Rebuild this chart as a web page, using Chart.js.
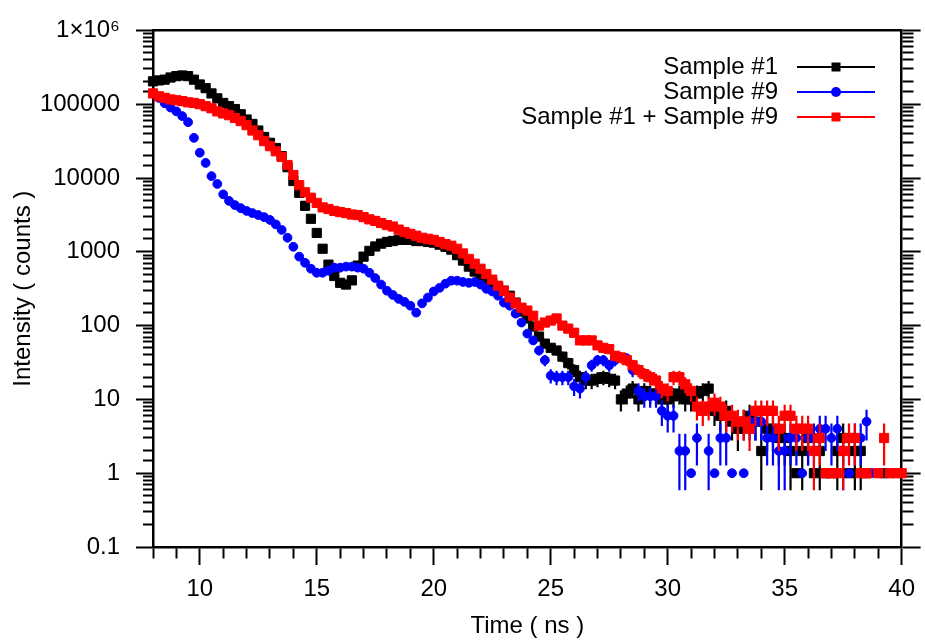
<!DOCTYPE html>
<html>
<head>
<meta charset="utf-8">
<script src="https://cdn.jsdelivr.net/npm/chart.js@4.4.1/dist/chart.umd.min.js"></script>
<style>
html,body{margin:0;padding:0;background:#ffffff;}
#wrap{width:925px;height:641px;position:relative;}
</style>
</head>
<body>
<div id="wrap"><canvas id="c"></canvas></div>
<script>
// ---- data ----
const timeNs = [8,8.25,8.5,8.75,9,9.25,9.5,9.75,10,10.25,10.5,10.75,11,11.25,11.5,11.75,
  12,12.25,12.5,12.75,13,13.25,13.5,13.75,14,14.25,14.5,14.75,15,15.25,15.5,15.75,
  16,16.25,16.5,16.75,17,17.25,17.5,17.75,18,18.25,18.5,18.75,19,19.25,19.5,19.75,
  20,20.25,20.5,20.75,21,21.25,21.5,21.75,22,22.25,22.5,22.75,23,23.25,23.5,23.75,
  24,24.25,24.5,24.75,25,25.25,25.5,25.75,26,26.25,26.5,26.75,27,27.25,27.5,27.75,
  28,28.25,28.5,28.75,29,29.25,29.5,29.75,30,30.25,30.5,30.75,31,31.25,31.5,31.75,
  32,32.25,32.5,32.75,33,33.25,33.5,33.75,34,34.25,34.5,34.75,35,35.25,35.5,35.75,
  36,36.25,36.5,36.75,37,37.25,37.5,37.75,38,38.25,38.5,38.75,39,39.25,39.5,39.75,40];

const sample1 = [204000,210000,215000,230000,240000,245000,240000,215000,
  185000,165000,140000,120000,104000,94000,86000,73000,
  62000,54000,44000,36000,30000,25500,19800,14000,
  9100,6300,4200,2800,1800,1100,670,470,
  380,360,410,650,860,1030,1180,1290,
  1360,1400,1450,1450,1450,1400,1400,1360,
  1330,1250,1170,1070,900,760,630,540,
  474,420,380,335,297,254,205,155,
  125,97,71,57,50,46,38,31,
  25,20,18,18,19,20,19,18,
  10,12,14,10,13,12,12,10,
  10,11,12,10,10,12,13,14,
  7,6,7,5,4,5,6,5,
  2,4,4,3,3,2,1,2,
  3,1,2,1,1,2,3,1,
  2,2,1,null,null,1,null,null,
  null];

const sample9 = [140000,122000,103000,90000,80000,69000,57000,35000,
  22000,16000,10600,8300,6000,4900,4300,3900,
  3580,3350,3150,2950,2700,2350,1980,1550,
  1170,860,710,590,520,520,554,610,
  610,630,630,610,590,520,440,360,
  297,260,230,210,186,150,200,240,
  290,325,370,406,406,390,380,390,
  360,315,290,254,205,186,145,110,
  78,63,46,34,21,20,20,20,
  15,14,20,29,34,34,29,34,
  37,36,25,13,11,11,11,7,
  6,6,2,2,1,3,null,2,
  1,3,3,1,null,1,5,5,
  5,3,3,2,2,3,3,1,
  3,3,4,4,3,4,2,1,
  3,3,5,1,null,null,null,null,
  null];

const sample1plus9 = [140000,128000,122000,116000,113000,110000,106000,104000,
  100000,94000,88000,80000,75000,71000,65000,59000,
  52000,44000,38000,31600,27000,23000,19300,15000,
  11000,8000,6400,5400,4600,4000,3800,3580,
  3450,3350,3200,3150,2950,2750,2620,2450,
  2300,2200,2000,1850,1750,1650,1550,1500,
  1450,1360,1270,1210,1100,950,800,690,
  590,500,420,347,297,240,200,175,
  160,136,100,110,117,125,100,91,
  80,63,63,63,54,50,48,39,
  37,34,29,25,22,20,18,14,
  13,20,20,16,13,8,7,8,
  9,8,6,6,5,5,4,7,
  7,7,7,4,6,6,4,4,
  4,2,3,1,1,1,2,3,
  3,1,1,null,1,3,1,1,
  1];

const seriesNames = ['Sample #1', 'Sample #9', 'Sample #1 + Sample #9'];
const seriesColors = ['#000000', '#0000ff', '#ff0000'];
const yTickValues = [0.1, 1, 10, 100, 1000, 10000, 100000, 1000000];
const yTickLabels = ['0.1', '1', '10', '100', '1000', '10000', '100000', '1\u00d710\u2076'];
const xTickLabels = [10, 15, 20, 25, 30, 35, 40];

// ---- helpers ----
const FONT_FAMILY = "'Liberation Sans', Arial, Helvetica, sans-serif";
const FONT = {family: FONT_FAMILY, size: 24};
Chart.defaults.font.family = FONT_FAMILY;
Chart.defaults.color = '#000000';

function isDecade(v) {
  const l = Math.log10(v);
  return Math.abs(l - Math.round(l)) < 1e-6;
}
function yLabel(v) {
  for (let i = 0; i < yTickValues.length; i++) {
    if (Math.abs(v - yTickValues[i]) / yTickValues[i] < 1e-6) return yTickLabels[i];
  }
  return '';
}
function isXMajor(v) {
  const r = Math.round(v);
  return Math.abs(v - r) < 1e-6 && xTickLabels.includes(r);
}
function points(arr) {
  const out = [];
  timeNs.forEach((t, i) => { if (arr[i] !== null) out.push({x: t, y: arr[i]}); });
  return out;
}

// Poisson error bars (sqrt of counts), drawn with the chart's own scales
const errorBarPlugin = {
  id: 'errorBars',
  afterDatasetDraw(chart, args) {
    const ds = chart.data.datasets[args.index];
    const xs = chart.scales.x, ys = chart.scales.y;
    const ctx = chart.ctx;
    ctx.save();
    ctx.strokeStyle = ds.borderColor;
    ctx.lineWidth = 2.2;
    ctx.beginPath();
    ds.data.forEach(p => {
      const e = Math.sqrt(p.y);
      const lo = p.y - e;
      if (lo <= 0) return;
      const px = xs.getPixelForValue(p.x);
      ctx.moveTo(px, ys.getPixelForValue(lo));
      ctx.lineTo(px, ys.getPixelForValue(p.y + e));
    });
    ctx.stroke();
    ctx.restore();
  }
};

// legend inside the plot, text on the left, line + marker on the right
const insideLegendPlugin = {
  id: 'insideLegend',
  afterDraw(chart) {
    const ctx = chart.ctx;
    const textRight = 778, lineX0 = 797, lineX1 = 875, markX = 836;
    const rowY = [67, 92, 117];
    chart.data.datasets.forEach((ds, i) => {
      const y = rowY[i];
      ctx.save();
      ctx.font = '24px ' + FONT_FAMILY;
      ctx.fillStyle = '#000000';
      ctx.textAlign = 'right';
      ctx.textBaseline = 'middle';
      ctx.fillText(ds.label, textRight, y);
      ctx.strokeStyle = ds.borderColor;
      ctx.fillStyle = ds.backgroundColor;
      ctx.lineWidth = 2;
      ctx.beginPath();
      ctx.moveTo(lineX0, y);
      ctx.lineTo(lineX1, y);
      ctx.stroke();
      ctx.beginPath();
      if (ds.pointStyle === 'circle') {
        ctx.arc(markX, y, 5, 0, Math.PI * 2);
      } else {
        ctx.rect(markX - 4.5, y - 4.5, 9, 9);
      }
      ctx.fill();
      ctx.restore();
    });
  }
};

const seriesData = [sample1, sample9, sample1plus9];
const seriesStyles = ['rect', 'circle', 'rect'];
const seriesRadius = [6.5, 4.4, 6.5];
const seriesOrder = [3, 2, 1];

const datasets = seriesData.map((arr, i) => ({
  label: seriesNames[i],
  data: points(arr),
  showLine: false,
  pointStyle: seriesStyles[i],
  pointRadius: seriesRadius[i],
  pointHoverRadius: seriesRadius[i],
  pointBorderWidth: 1,
  backgroundColor: seriesColors[i],
  borderColor: seriesColors[i],
  order: seriesOrder[i],
  clip: false
}));

const BORDER = {display: true, color: '#000000', width: 2.5};

new Chart(document.getElementById('c'), {
  type: 'scatter',
  data: {datasets},
  plugins: [errorBarPlugin, insideLegendPlugin],
  options: {
    responsive: true,
    maintainAspectRatio: false,
    animation: false,
    events: [],
    layout: {padding: 0},
    plugins: {legend: {display: false}, tooltip: {enabled: false}},
    scales: {
      x: {
        type: 'linear', position: 'bottom', min: 8, max: 40,
        ticks: {
          stepSize: 1, autoSkip: false, maxRotation: 0, padding: 10,
          color: '#000000', font: FONT,
          callback: v => isXMajor(v) ? String(Math.round(v)) : ''
        },
        grid: {
          drawOnChartArea: false, drawTicks: true, tickLength: 18,
          tickWidth: 2, tickColor: '#000000',
          tickBorderDash: c => isXMajor(c.tick.value) ? [] : [10, 100]
        },
        border: BORDER,
        title: {display: true, text: 'Time ( ns )', font: FONT, color: '#000000', padding: {top: 0, bottom: 0}},
        afterFit: s => { s.height = 94; }
      },
      xTop: {
        type: 'linear', position: 'top', min: 8, max: 40,
        ticks: {display: false},
        grid: {drawOnChartArea: false, drawTicks: false},
        border: BORDER,
        afterFit: s => { s.height = 28; }
      },
      y: {
        type: 'logarithmic', position: 'left', min: 0.1, max: 1000000,
        ticks: {autoSkip: false, padding: 16, color: '#000000', font: FONT, callback: v => yLabel(v)},
        grid: {
          drawOnChartArea: false, drawTicks: true, tickLength: 17,
          tickWidth: 2, tickColor: '#000000',
          tickBorderDash: c => isDecade(c.tick.value) ? [] : [0, 7, 9, 100]
        },
        border: BORDER,
        title: {display: true, text: 'Intensity ( counts )', font: FONT, color: '#000000', padding: {top: 9, bottom: 0}},
        afterFit: s => { s.width = 153; }
      },
      yR: {
        type: 'logarithmic', position: 'right', min: 0.1, max: 1000000,
        ticks: {display: false, autoSkip: false},
        grid: {
          drawOnChartArea: false, drawTicks: true, tickLength: 19,
          tickWidth: 2, tickColor: '#000000',
          tickBorderDash: c => isDecade(c.tick.value) ? [] : [11, 100]
        },
        border: BORDER,
        afterFit: s => { s.width = 21; }
      }
    }
  }
});
</script>
</body>
</html>
